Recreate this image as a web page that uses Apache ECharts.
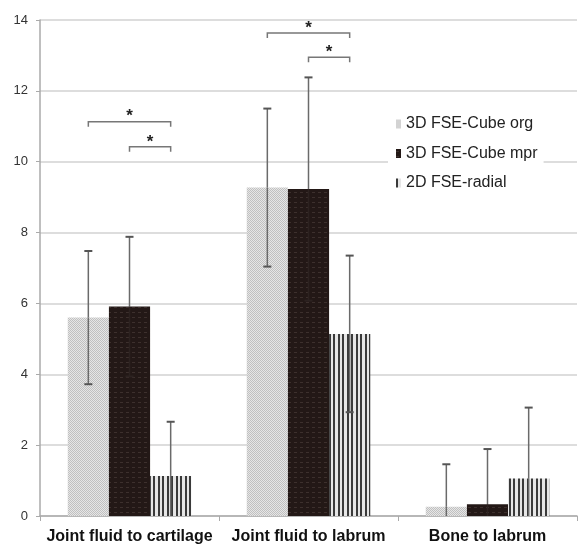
<!DOCTYPE html>
<html><head><meta charset="utf-8">
<script src="https://cdn.jsdelivr.net/npm/echarts@6/dist/echarts.min.js"></script>
<style>html,body{margin:0;padding:0;background:#fff}#c{width:581px;height:547px}</style>
</head><body><div id="c"></div>
<script>
const categories = ['Joint fluid to cartilage', 'Joint fluid to labrum', 'Bone to labrum'];
const seriesNames = ['3D FSE-Cube org', '3D FSE-Cube mpr', '2D FSE-radial'];
const orgValues = [5.6, 9.27, 0.26];
const orgErrors = [1.88, 2.23, 1.2];
const mprValues = [5.91, 9.23, 0.33];
const mprErrors = [1.97, 3.15, 1.56];
const radialValues = [1.13, 5.14, 1.06];
const radialErrors = [1.53, 2.21, 2.0];
const yTicks = [0, 2, 4, 6, 8, 10, 12, 14];
// significance brackets: [category, fromSeries, toSeries, level]
const brackets = [[0, 0, 2, 11.13], [0, 1, 2, 10.42], [1, 0, 2, 13.63], [1, 1, 2, 12.95]];

const GAP = 0.31;
const lowerWhiskerColors = ['#6a6a6a', '#2c2220', '#6a6a6a'];

function pat(w, h, draw) {
  const c = document.createElement('canvas'); c.width = w; c.height = h;
  const g = c.getContext('2d'); draw(g); return c;
}
const orgPat = pat(2, 2, g => { g.fillStyle = '#e6e6e6'; g.fillRect(0,0,2,2); g.fillStyle = '#c0c0c0'; g.fillRect(0,0,1,1); g.fillRect(1,1,1,1); });
const mprPat = pat(6, 5, g => { g.fillStyle = '#231816'; g.fillRect(0,0,6,5); g.fillStyle = '#3d302d'; g.fillRect(0,2,3,1); });
const radPat = pat(9, 4, g => { g.fillStyle = '#e6e6e6'; g.fillRect(0,0,9,4); g.fillStyle = '#3a3a3a'; g.fillRect(0,0,2,4); g.fillRect(5,0,2,4); });

const fills = [
  {image: orgPat, repeat: 'repeat'},
  {image: mprPat, repeat: 'repeat'},
  {image: radPat, repeat: 'repeat'}
];
const valueSets = [orgValues, mprValues, radialValues];
const errorSets = [orgErrors, mprErrors, radialErrors];

const errData = [];
valueSets.forEach((vals, s) => vals.forEach((v, i) => errData.push([i, v, errorSets[s][i], s])));

function barOffset(api, s) {
  const cw = api.size([1, 0])[0];
  const bw = cw * (1 - GAP) / 3;
  return (s - 1) * bw;
}

const barSeries = seriesNames.map((n, s) => ({
  name: n, type: 'bar', data: valueSets[s],
  barGap: '0%', barCategoryGap: (GAP * 100) + '%',
  itemStyle: {color: fills[s]}, z: 2
}));

const option = {
  animation: false,
  textStyle: {fontFamily: 'Liberation Sans, Arial, sans-serif'},
  grid: {left: 40, right: 4, top: 20, bottom: 31},
  legend: {
    orient: 'vertical', left: 388, top: 110,
    data: seriesNames, itemWidth: 5, itemHeight: 9, itemGap: 13.5,
    backgroundColor: '#fff', padding: [6, 6, 6, 8],
    icon: 'rect',
    textStyle: {fontSize: 16, color: '#222', fontFamily: 'Liberation Sans, Arial, sans-serif', padding: [0, 0, 0, 0]}
  },
  xAxis: {
    type: 'category', data: categories,
    axisLine: {lineStyle: {color: '#aaa', width: 1.5}},
    axisTick: {show: true, length: 5, lineStyle: {color: '#aaa'}},
    axisLabel: {fontSize: 16, fontWeight: 'bold', color: '#111', margin: 13, interval: 0}
  },
  yAxis: {
    type: 'value', min: yTicks[0], max: yTicks[yTicks.length - 1], interval: 2,
    axisLine: {show: true, lineStyle: {color: '#aaa', width: 1.5}},
    axisTick: {show: true, length: 4, lineStyle: {color: '#aaa'}},
    axisLabel: {fontSize: 13, color: '#333', margin: 12},
    splitLine: {lineStyle: {color: '#d2d2d2', width: 1.5}}
  },
  series: barSeries.concat([
    {
      type: 'custom', name: 'err', data: errData, z: 5,
      encode: {x: 0, y: 1},
      renderItem: function (params, api) {
        const cat = api.value(0), v = api.value(1), e = api.value(2), s = api.value(3);
        const off = barOffset(api, s);
        const x = api.coord([cat, v])[0] + off;
        const ym = api.coord([cat, v])[1];
        const yt = api.coord([cat, v + e])[1];
        const lowV = Math.max(0, v - e);
        const yb = api.coord([cat, lowV])[1];
        const lc = lowerWhiskerColors[s];
        const ch = [
          {type: 'line', shape: {x1: x, y1: yt, x2: x, y2: ym}, style: {stroke: '#6a6a6a', lineWidth: 1.5}},
          {type: 'line', shape: {x1: x, y1: ym, x2: x, y2: yb}, style: {stroke: lc, lineWidth: 1.5}},
          {type: 'line', shape: {x1: x - 4, y1: yt, x2: x + 4, y2: yt}, style: {stroke: '#555', lineWidth: 2}}
        ];
        if (v - e > 0) ch.push({type: 'line', shape: {x1: x - 4, y1: yb, x2: x + 4, y2: yb}, style: {stroke: lc === '#6a6a6a' ? '#555' : lc, lineWidth: 2}});
        return {type: 'group', children: ch};
      }
    },
    {
      type: 'custom', name: 'sig', data: brackets, z: 6,
      encode: {x: 0, y: 3},
      renderItem: function (params, api) {
        const cat = api.value(0), a = api.value(1), b = api.value(2), lv = api.value(3);
        const p = api.coord([cat, lv]);
        const x1 = p[0] + barOffset(api, a), x2 = p[0] + barOffset(api, b), y = p[1];
        return {type: 'group', children: [
          {type: 'polyline', shape: {points: [[x1, y + 5], [x1, y], [x2, y], [x2, y + 5]]}, style: {stroke: '#777', lineWidth: 1.5, fill: null}},
          {type: 'text', style: {text: '*', x: (x1 + x2) / 2, y: y - 5, align: 'center', verticalAlign: 'middle', fontSize: 17, fontWeight: 'bold', fill: '#222', fontFamily: 'Liberation Sans, Arial'}}
        ]};
      }
    }
  ])
};
const chart = echarts.init(document.getElementById('c'), null, {renderer: 'canvas'});
chart.setOption(option);
</script></body></html>
